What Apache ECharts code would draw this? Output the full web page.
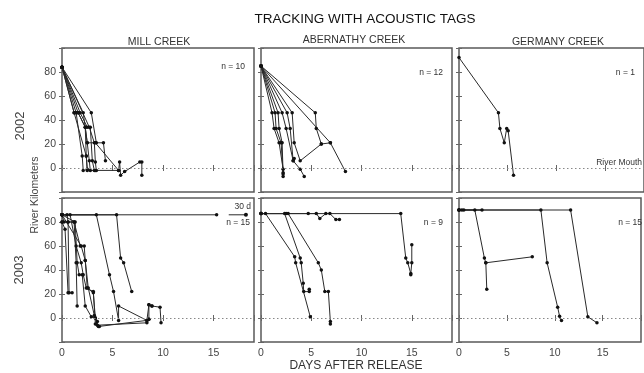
<!DOCTYPE html>
<html>
<head>
<meta charset="utf-8">
<script src="https://cdn.jsdelivr.net/npm/echarts@6/dist/echarts.min.js"></script>
<style>
html,body{margin:0;padding:0;background:#fff;}
#chart{width:644px;height:373px;}
</style>
</head>
<body>
<div id="chart"></div>
<script>
// ---- data (days after release, river km) ----
const xTicks = [0, 5, 10, 15];
const yTicks = [0, 20, 40, 60, 80];
const creeks = ['MILL CREEK', 'ABERNATHY CREEK', 'GERMANY CREEK'];
const years = ['2002', '2003'];
const nLabels = ['n = 10', 'n = 12', 'n = 1', 'n = 15', 'n = 9', 'n = 15'];

const mill2002 = [
  [[0,84],[1.2,46],[1.4,46],[2.0,10],[2.1,-2]],
  [[0,84],[1.4,46],[1.6,46],[2.3,34],[2.4,10],[2.5,-1]],
  [[0,84],[1.6,46],[2.3,34],[2.5,21],[2.7,6],[2.8,-2],[3.3,-2]],
  [[0,84],[1.8,46],[2.5,34],[2.8,34],[3.0,6],[3.2,-2],[5.6,-2]],
  [[0,84],[2.9,46],[3.4,21],[4.1,21],[4.3,6]],
  [[0,84],[2.7,34],[3.2,21],[3.3,5],[3.4,-2]],
  [[0,84],[2.1,46],[2.5,21],[3.3,21],[5.6,-2],[5.7,5],[5.8,-6],[6.2,-3],[7.7,5],[7.9,5],[7.9,-6]],
  [[0,84],[1.2,46],[2.4,10],[2.5,-2]]
];
const aber2002 = [
  [[0,85],[1.1,46],[1.3,33],[1.8,21],[2.2,-1],[2.2,-7]],
  [[0,85],[1.4,46],[1.5,33],[2.0,21],[2.2,-4]],
  [[0,85],[1.7,46],[1.8,33],[2.1,21],[2.2,-5]],
  [[0,85],[2.1,46],[2.5,33],[3.2,6],[3.9,-1],[4.3,-7]],
  [[0,85],[2.6,46],[2.9,33],[3.2,6],[3.3,8]],
  [[0,85],[3.1,46],[3.3,21],[3.9,6],[6.0,20],[6.9,21]],
  [[0,85],[5.4,46],[5.5,33],[6.0,20]],
  [[0,85],[6.9,21],[8.4,-3]]
];
const germ2002 = [
  [[0,92],[4.05,46],[4.2,33],[4.65,21],[4.9,33],[5.05,31],[5.6,-6]]
];
const mill2003 = [
  [[0,86],[15.3,86]],
  [[0,86],[0.5,86],[0.6,80],[1.2,80],[1.8,60],[2.2,60],[2.3,48],[2.5,25],[3.1,21],[3.3,0],[3.5,-3]],
  [[0,80],[0.3,74],[0.6,21],[1.0,21]],
  [[0,86],[0.2,80],[0.6,80],[0.7,21]],
  [[0,80],[1.2,80],[1.4,46],[1.5,10]],
  [[0,86],[1.3,80],[1.5,46],[1.7,36],[2.0,36],[2.3,10],[2.9,1],[3.3,0],[3.6,-7]],
  [[0,86],[0.8,86],[1.4,60],[1.9,46],[2.1,36],[2.4,25],[3.1,22],[3.3,-5],[3.7,-7],[8.4,-2],[8.6,-1],[8.6,11],[8.9,10],[9.7,9],[9.8,-4]],
  [[0,86],[3.4,86],[4.7,36],[5.1,22],[5.6,-2],[5.6,10],[8.4,-2],[8.6,11],[8.9,10]],
  [[0,86],[5.4,86],[5.8,50],[6.1,46],[6.9,22]],
  [[0,86],[1.9,60],[2.3,48],[2.6,25],[3.2,2],[3.5,-6],[8.4,-4],[8.6,-1]]
];
const mill2003Arrow = [[16.5,86],[18.2,86]];
const aber2003 = [
  [[0,87],[13.9,87],[14.4,50],[14.6,46],[14.9,37],[14.9,36],[15.0,46],[15.0,61]],
  [[0,87],[0.45,87],[3.35,51],[3.45,46],[4.9,1]],
  [[0,87],[2.35,87],[3.9,50],[4.0,46],[4.2,29],[4.25,22],[4.8,22],[4.8,24]],
  [[0,87],[2.7,87],[5.7,46],[6.0,40],[6.35,22],[6.7,22],[6.9,-3],[6.9,-5]],
  [[2.5,87],[4.7,87],[5.5,87],[5.85,83],[6.45,87],[6.85,87],[7.45,82],[7.8,82]]
];
const germ2003 = [
  [[0,90],[0.3,90],[0.5,90],[2.4,90]],
  [[0,90],[1.65,90],[2.65,50],[2.8,46],[2.9,24]],
  [[2.8,46],[7.65,51]],
  [[0,90],[8.55,90],[9.2,46],[10.3,9],[10.5,1.4],[10.7,-2]],
  [[0,90],[11.65,90],[13.45,1],[14.4,-4]]
];
const panels = [mill2002, aber2002, germ2002, mill2003, aber2003, germ2003];

// ---- layout ----
const FONT = 'Liberation Sans';
const colLeft = [62, 261, 459];
const colWidth = [192, 191, 191];
const rowTop = [48, 198];
const rowHeight = 144;

const grids = [], xAxes = [], yAxes = [], series = [];
panels.forEach((tracks, i) => {
  const row = Math.floor(i / 3), col = i % 3;
  grids.push({left: colLeft[col], top: rowTop[row], width: colWidth[col], height: rowHeight,
    show: true, borderColor: '#5a5a5a', borderWidth: 1.5, backgroundColor: 'transparent'});
  const xBase = {type: 'value', gridIndex: i, min: 0, max: 19, interval: 5,
    axisLine: {show: false}, splitLine: {show: false},
    axisTick: {show: true, inside: true, length: 3, lineStyle: {color: '#666'}}};
  xAxes.push(Object.assign({}, xBase, {position: 'bottom',
    axisLabel: {show: row === 1, color: '#444', fontSize: 10.5, fontFamily: FONT, margin: 6,
      formatter: v => xTicks.includes(v) ? String(v) : ''}}));
  xAxes.push(Object.assign({}, xBase, {position: 'top', axisLabel: {show: false}}));
  const yBase = {type: 'value', gridIndex: i, min: -20, max: 100, interval: 20,
    axisLine: {show: false}, splitLine: {show: false},
    axisTick: {show: true, inside: true, length: 3, lineStyle: {color: '#666'}}};
  yAxes.push(Object.assign({}, yBase, {position: 'left',
    axisLabel: {show: col === 0, color: '#444', fontSize: 10.5, fontFamily: FONT, margin: 6,
      formatter: v => yTicks.includes(v) ? String(v) : ''}}));
  yAxes.push(Object.assign({}, yBase, {position: 'right', axisLabel: {show: false}}));

  tracks.forEach((t, k) => {
    const s = {type: 'line', xAxisIndex: 2 * i, yAxisIndex: 2 * i, data: t,
      symbol: 'circle', symbolSize: 3.5, showSymbol: true,
      lineStyle: {color: '#2a2a2a', width: 1}, itemStyle: {color: '#111'},
      animation: false, silent: true, z: 3};
    if (k === 0) {
      s.markLine = {silent: true, symbol: 'none', label: {show: false},
        lineStyle: {color: '#888', type: [1.5, 2.5], width: 1}, data: [{yAxis: 0}]};
    }
    series.push(s);
  });
});
// 30 d arrow in Mill 2003 (dot only at the far end)
series.push({type: 'line', xAxisIndex: 6, yAxisIndex: 6,
  data: mill2003Arrow.map((p, j) => ({value: p, symbol: j === mill2003Arrow.length - 1 ? 'circle' : 'none'})),
  symbolSize: 4, showSymbol: true,
  lineStyle: {color: '#2a2a2a', width: 1}, itemStyle: {color: '#111'}, animation: false, silent: true});

function txt(x, y, text, size, opts) {
  return Object.assign({type: 'text', x: x, y: y, silent: true,
    style: Object.assign({text: text, fontSize: size, fontFamily: FONT, fill: '#333',
      textAlign: 'center', textVerticalAlign: 'middle'}, (opts && opts.style) || {})},
    (opts && opts.el) || {});
}
const graphic = [
  txt(365, 19, 'TRACKING WITH ACOUSTIC TAGS', 13.5, {style: {fill: '#111'}}),
  txt(159, 42, creeks[0], 10.5),
  txt(354, 40, creeks[1], 10.5),
  txt(558, 42, creeks[2], 10.5),
  txt(20, 126, years[0], 13, {el: {rotation: Math.PI / 2}, style: {fill: '#444'}}),
  txt(19, 270, years[1], 13, {el: {rotation: Math.PI / 2}, style: {fill: '#444'}}),
  txt(35, 195, 'River Kilometers', 10.5, {el: {rotation: Math.PI / 2}, style: {fill: '#444'}}),
  txt(356, 366, 'DAYS AFTER RELEASE', 12, {style: {fill: '#333'}}),
  txt(245, 67, nLabels[0], 8.5, {style: {textAlign: 'right'}}),
  txt(443, 73, nLabels[1], 8.5, {style: {textAlign: 'right'}}),
  txt(635, 73, nLabels[2], 8.5, {style: {textAlign: 'right'}}),
  txt(250, 223, nLabels[3], 8.5, {style: {textAlign: 'right'}}),
  txt(443, 223, nLabels[4], 8.5, {style: {textAlign: 'right'}}),
  txt(642, 223, nLabels[5], 8.5, {style: {textAlign: 'right'}}),
  txt(642, 163, 'River Mouth', 8.5, {style: {textAlign: 'right'}}),
  txt(251, 207, '30 d', 8.5, {style: {textAlign: 'right'}})
];

const chart = echarts.init(document.getElementById('chart'), null, {renderer: 'canvas'});
chart.setOption({
  animation: false,
  backgroundColor: '#fff',
  grid: grids, xAxis: xAxes, yAxis: yAxes, series: series, graphic: graphic
});
</script>
</body>
</html>
